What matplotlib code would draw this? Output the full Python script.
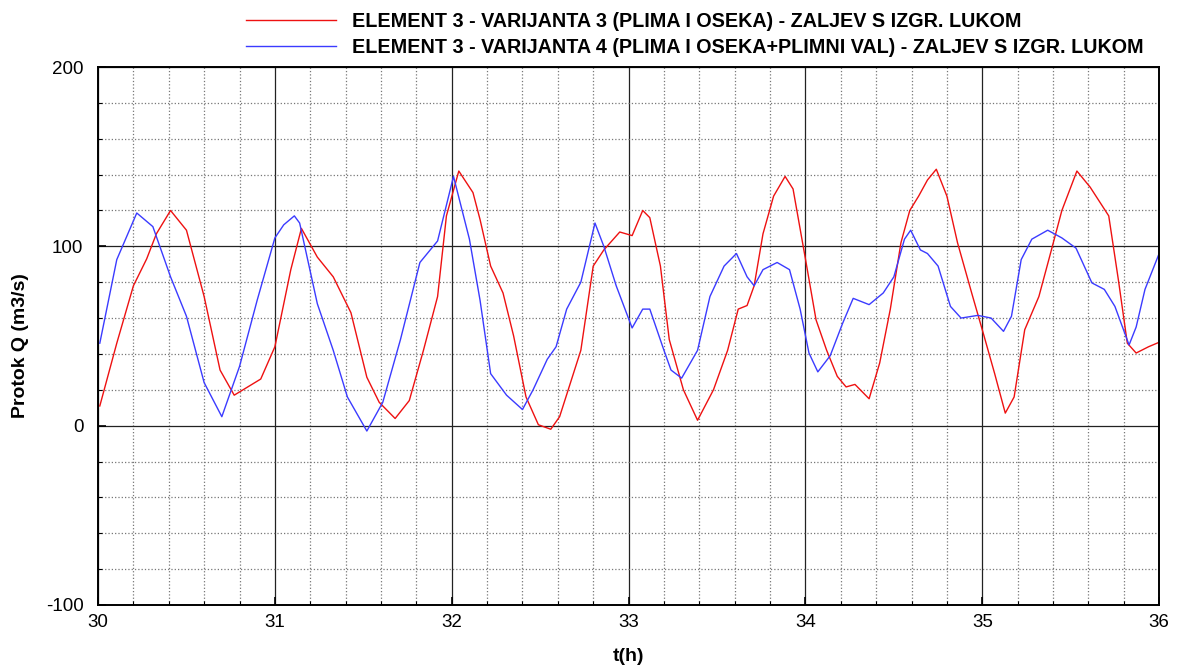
import matplotlib.pyplot as plt
from matplotlib.ticker import MultipleLocator

plt.rcParams['font.family'] = ['Liberation Sans', 'DejaVu Sans']
plt.rcParams['axes.unicode_minus'] = False

# varijanta 3 (crvena)
t3 = [30.01, 30.106, 30.20, 30.275, 30.33, 30.41, 30.50, 30.60, 30.69, 30.77, 30.92, 31.00,
      31.09, 31.15, 31.24, 31.33, 31.43, 31.52, 31.59, 31.68, 31.76, 31.84, 31.92, 31.97,
      32.04, 32.12, 32.16, 32.22, 32.29, 32.35, 32.42, 32.49, 32.56, 32.61, 32.73, 32.80,
      32.86, 32.95, 33.02, 33.08, 33.12, 33.18, 33.23, 33.31, 33.39, 33.48, 33.56, 33.62,
      33.67, 33.71, 33.76, 33.82, 33.885, 33.93, 34.00, 34.06, 34.12, 34.18, 34.23, 34.28,
      34.36, 34.42, 34.48, 34.54, 34.59, 34.64, 34.69, 34.74, 34.80, 34.86, 34.94, 35.01,
      35.07, 35.13, 35.18, 35.24, 35.32, 35.38, 35.45, 35.535, 35.61, 35.715, 35.77, 35.82,
      35.87, 35.94, 36.0]
q3 = [11, 46, 78, 93, 107, 120, 109, 72, 31, 17, 26, 44,
      87, 110, 94, 83, 63, 27, 13, 4, 14, 42, 72, 117,
      142, 130, 115, 89, 74, 50, 16, 0.5, -2, 5, 42, 89,
      98, 108, 106, 120, 116, 89, 48, 20, 3, 20, 42, 65,
      67, 78, 107, 128, 139, 132, 93, 59, 42, 27.5, 21.6, 23,
      15, 35, 65, 102, 120, 128, 137, 143, 128, 102, 74, 50,
      29, 7, 16, 53.5, 72, 94, 120, 142, 133, 117, 81, 46,
      40.5, 44, 46.5]

# varijanta 4 (plava)
t4 = [30.01, 30.106, 30.219, 30.31, 30.41, 30.50, 30.60, 30.70, 30.80, 30.90, 31.00, 31.05,
      31.11, 31.14, 31.24, 31.33, 31.41, 31.52, 31.61, 31.71, 31.82, 31.92, 32.01, 32.10,
      32.16, 32.22, 32.31, 32.40, 32.46, 32.54, 32.59, 32.65, 32.73, 32.81, 32.86, 32.93,
      33.02, 33.08, 33.12, 33.20, 33.24, 33.30, 33.39, 33.46, 33.54, 33.61, 33.67, 33.71,
      33.76, 33.84, 33.91, 33.97, 34.02, 34.07, 34.14, 34.21, 34.27, 34.36, 34.44, 34.50,
      34.56, 34.595, 34.65, 34.69, 34.75, 34.82, 34.88, 34.975, 35.05, 35.12, 35.165, 35.22,
      35.28, 35.37, 35.45, 35.53, 35.62, 35.69, 35.75, 35.83, 35.87, 35.92, 36.0]
q4 = [46, 92.6, 118.6, 111, 83, 61, 24, 5, 33, 70, 104.7, 112,
      117, 113, 68, 42, 16, -3, 13, 48, 91, 103, 139, 104,
      70, 29, 17, 9, 20, 37, 44, 65, 80, 113, 100, 78,
      54.5, 65, 65, 42, 31, 26.5, 42, 72, 89, 96, 83, 78,
      87, 91, 87, 65, 40.5, 30, 39, 57, 71, 67.5, 74, 83,
      104, 109, 98, 96, 89, 66.5, 60, 61.5, 60, 52.6, 61, 92.6,
      104, 109, 104.7, 99, 79.6, 76, 66.5, 45, 55, 76, 96]

label3 = 'ELEMENT 3 - VARIJANTA 3 (PLIMA I OSEKA) - ZALJEV S IZGR. LUKOM'
label4 = 'ELEMENT 3 - VARIJANTA 4 (PLIMA I OSEKA+PLIMNI VAL) - ZALJEV S IZGR. LUKOM'

fig = plt.figure(figsize=(11.84, 6.71), dpi=100)
ax = fig.add_axes([0.0828, 0.0984, 0.8962, 0.8017])

ax.plot(t3, q3, color='#ee1111', lw=1.0, label=label3)
ax.plot(t4, q4, color='#3b3bff', lw=1.0, label=label4)

ax.set_xlim(30, 36)
ax.set_ylim(-100, 200)
ax.xaxis.set_major_locator(MultipleLocator(1))
ax.xaxis.set_minor_locator(MultipleLocator(0.2))
ax.yaxis.set_major_locator(MultipleLocator(100))
ax.yaxis.set_minor_locator(MultipleLocator(20))

ax.grid(which='major', color='#222222', linestyle='-', linewidth=0.9)
ax.grid(which='minor', color='#777777', linestyle=':', linewidth=0.9)
ax.set_axisbelow(True)

ax.tick_params(which='major', direction='in', length=6, width=1.2, labelsize=13.5)
ax.tick_params(which='minor', direction='in', length=3, width=0.8)
ax.tick_params(axis='x', which='major', pad=6.5)
ax.tick_params(axis='y', which='major', pad=10.5)
for s in ax.spines.values():
    s.set_linewidth(1.4)

ax.set_xlabel('t(h)', fontsize=14, fontweight='bold', labelpad=12.5)
ax.set_ylabel('Protok Q (m3/s)', fontsize=14, fontweight='bold', labelpad=12)
ax.yaxis.label.set_y(0.483)

fig.legend(loc='upper left', bbox_to_anchor=(246 / 1184, 0.982), frameon=False,
           prop={'size': 14.2, 'weight': 'bold'}, handlelength=4.57, handletextpad=0.8,
           labelspacing=0.335, borderpad=0, borderaxespad=0)

fig.savefig('out.png', dpi=100)
